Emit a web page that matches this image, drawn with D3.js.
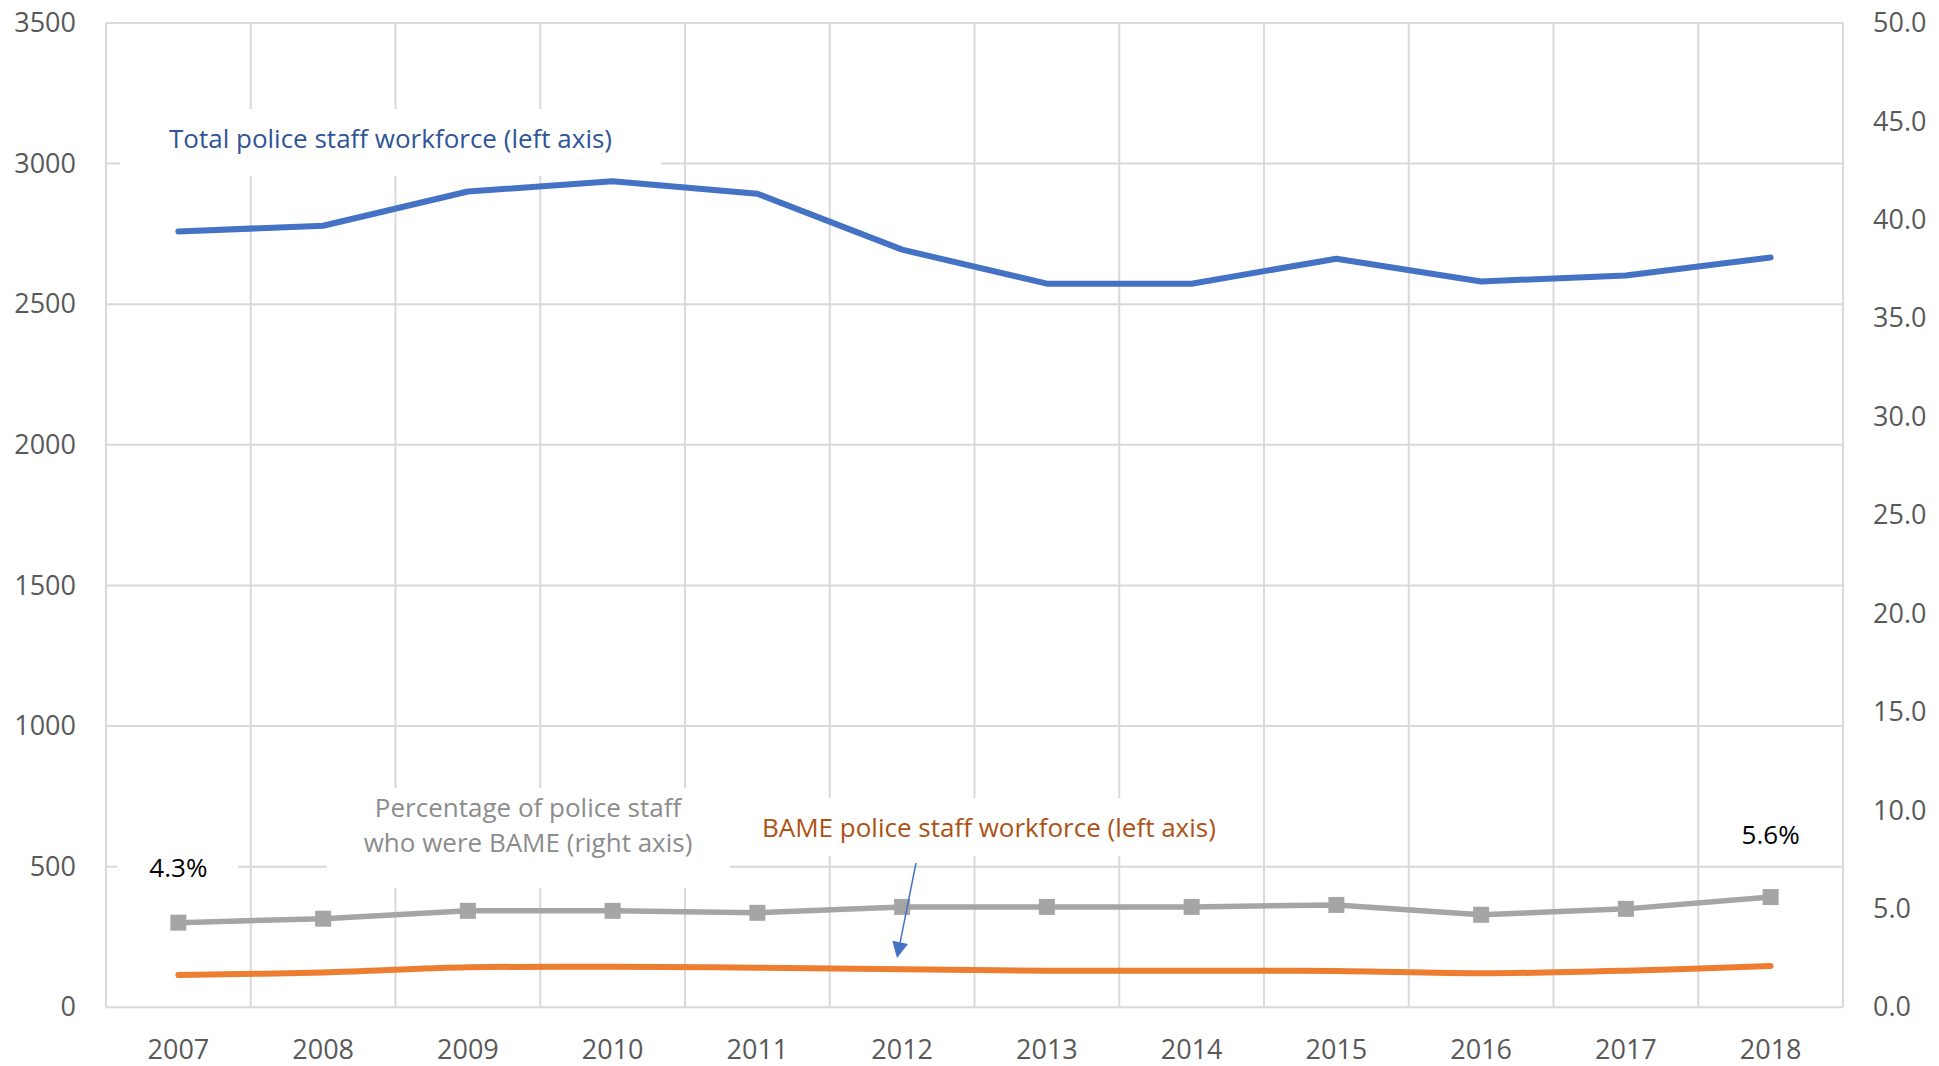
<!DOCTYPE html>
<html>
<head>
<meta charset="utf-8">
<script src="https://cdn.jsdelivr.net/npm/d3@7"></script>
<style>
  html, body { margin: 0; padding: 0; background: #fff; }
  svg { display: block; font-family: "Open Sans", "Noto Sans", sans-serif; }
</style>
</head>
<body>
<svg id="chart" width="1939" height="1066"></svg>
<script>
// ---- data ----
const years = [2007, 2008, 2009, 2010, 2011, 2012, 2013, 2014, 2015, 2016, 2017, 2018];
const totalStaff = [2759, 2779, 2901, 2937, 2893, 2694, 2573, 2573, 2662, 2581, 2602, 2666];
const bameStaff = [115, 124, 142, 144, 141, 135, 130, 130, 129, 121, 130, 147];
const bamePct = [4.3, 4.5, 4.9, 4.9, 4.8, 5.1, 5.1, 5.1, 5.2, 4.7, 5.0, 5.6];
const leftTicks = [0, 500, 1000, 1500, 2000, 2500, 3000, 3500];
const rightTicks = [0, 5, 10, 15, 20, 25, 30, 35, 40, 45, 50];
const labelTotal = "Total police staff workforce (left axis)";
const labelPct = ["Percentage of police staff", "who were BAME (right axis)"];
const labelBame = "BAME police staff workforce (left axis)";

// ---- layout ----
const L = 106, R = 1843, T = 23, B = 1007.3;
const svg = d3.select("#chart");

const x = d3.scaleBand().domain(years).range([L, R]).padding(0);
const yL = d3.scaleLinear().domain([0, 3500]).range([B, T]);
const yR = d3.scaleLinear().domain([0, 50]).range([B, T]);
const cx = d => x(d) + x.bandwidth() / 2;

const gridColor = "#D9D9D9";

// gridlines
const grid = svg.append("g");
grid.selectAll("line.h").data(leftTicks).join("line")
  .attr("x1", L).attr("x2", R)
  .attr("y1", d => yL(d)).attr("y2", d => yL(d))
  .attr("stroke", gridColor).attr("stroke-width", 2);
grid.selectAll("line.v").data(d3.range(years.length + 1)).join("line")
  .attr("x1", i => L + i * x.step()).attr("x2", i => L + i * x.step())
  .attr("y1", T).attr("y2", B)
  .attr("stroke", gridColor).attr("stroke-width", 2);

// axes
const tickColor = "#595959";
const axL = svg.append("g").attr("transform", `translate(${L},0)`)
  .call(d3.axisLeft(yL).tickValues(leftTicks).tickSize(0).tickPadding(30).tickFormat(d3.format("d")));
const axR = svg.append("g").attr("transform", `translate(${R},0)`)
  .call(d3.axisRight(yR).tickValues(rightTicks).tickSize(0).tickPadding(30).tickFormat(d3.format(".1f")));
const axB = svg.append("g").attr("transform", `translate(0,${B})`)
  .call(d3.axisBottom(x).tickSize(0).tickPadding(0).tickFormat(d3.format("d")));
[axL, axR, axB].forEach(a => {
  a.select(".domain").remove();
  a.selectAll("text").attr("fill", tickColor).style("font-size", "27px")
    .style("font-family", "'Open Sans', 'Noto Sans', sans-serif");
});
axB.selectAll("text").attr("dy", null).attr("y", 52);

// series
const idx = d3.range(years.length);
const lineTotal = d3.line().x(i => cx(years[i])).y(i => yL(totalStaff[i]));
const lineBame = d3.line().x(i => cx(years[i])).y(i => yL(bameStaff[i])).curve(d3.curveCatmullRom.alpha(0.5));
const linePct = d3.line().x(i => cx(years[i])).y(i => yR(bamePct[i]));

svg.append("path").attr("d", lineBame(idx)).attr("fill", "none")
  .attr("stroke", "#ED7D31").attr("stroke-width", 6).attr("stroke-linecap", "round").attr("stroke-linejoin", "round");
svg.append("path").attr("d", linePct(idx)).attr("fill", "none")
  .attr("stroke", "#A5A5A5").attr("stroke-width", 5.5).attr("stroke-linejoin", "round");
svg.append("g").selectAll("rect").data(idx).join("rect")
  .attr("x", i => cx(years[i]) - 8).attr("y", i => yR(bamePct[i]) - 8)
  .attr("width", 16).attr("height", 16).attr("fill", "#A5A5A5");
svg.append("path").attr("d", lineTotal(idx)).attr("fill", "none")
  .attr("stroke", "#4472C4").attr("stroke-width", 6).attr("stroke-linecap", "round").attr("stroke-linejoin", "round");

// annotation boxes and labels
const ann = svg.append("g").style("font-size", "26px");
// total label
ann.append("rect").attr("x", 120).attr("y", 109).attr("width", 541).attr("height", 67).attr("fill", "#fff");
ann.append("text").attr("x", 169).attr("y", 148).attr("fill", "#2F5597").text(labelTotal);
// percentage label
ann.append("rect").attr("x", 327).attr("y", 788).attr("width", 403).attr("height", 100).attr("fill", "#fff");
ann.selectAll("text.pct").data(labelPct).join("text")
  .attr("x", 528).attr("y", (d, i) => 817 + i * 35).attr("text-anchor", "middle")
  .attr("fill", "#8C8C8C").text(d => d);
// BAME label
ann.append("rect").attr("x", 745).attr("y", 798).attr("width", 490).attr("height", 58).attr("fill", "#fff");
ann.append("text").attr("x", 762).attr("y", 837).attr("fill", "#AE5214").text(labelBame);
// first / last data labels
const first = 0, last = years.length - 1;
ann.append("rect").attr("x", 117).attr("y", 852).attr("width", 121).attr("height", 36).attr("fill", "#fff");
ann.append("text").attr("x", cx(years[first])).attr("y", 877).attr("text-anchor", "middle")
  .attr("fill", "#000").text(d3.format(".1f")(bamePct[first]) + "%");
ann.append("rect").attr("x", 1702).attr("y", 818).attr("width", 116).attr("height", 36).attr("fill", "#fff");
ann.append("text").attr("x", cx(years[last])).attr("y", 844).attr("text-anchor", "middle")
  .attr("fill", "#000").text(d3.format(".1f")(bamePct[last]) + "%");

// arrow
const a0 = [916, 863], a1 = [897, 958];
const dx = a1[0] - a0[0], dy = a1[1] - a0[1], len = Math.hypot(dx, dy);
const ux = dx / len, uy = dy / len, px = -uy, py = ux;
const headL = 16, headW = 8;
const bx = a1[0] - ux * headL, by = a1[1] - uy * headL;
svg.append("line").attr("x1", a0[0]).attr("y1", a0[1]).attr("x2", bx).attr("y2", by)
  .attr("stroke", "#4472C4").attr("stroke-width", 1.5);
svg.append("polygon")
  .attr("points", [[a1[0], a1[1]], [bx + px * headW, by + py * headW], [bx - px * headW, by - py * headW]].map(p => p.join(",")).join(" "))
  .attr("fill", "#4472C4");
</script>
</body>
</html>
